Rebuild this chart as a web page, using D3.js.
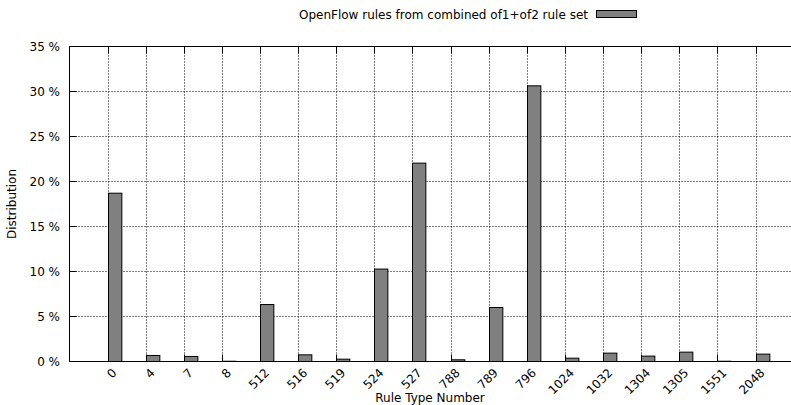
<!DOCTYPE html>
<html>
<head>
<meta charset="utf-8">
<script src="https://cdn.jsdelivr.net/npm/d3@7"></script>
<style>
  html, body { margin: 0; padding: 0; background: #fff; }
  svg { display: block; font-family: "DejaVu Sans", sans-serif; }
</style>
</head>
<body>
<svg id="chart" width="791" height="405"></svg>
<script>
// Rule type numbers (x categories)
const ruleTypes = ["0", "4", "7", "8", "512", "516", "519", "524", "527", "788",
                   "789", "796", "1024", "1032", "1304", "1305", "1551", "2048"];
// Share of each rule type in the combined of1+of2 rule set, in percent
const distribution = [18.7, 0.67, 0.56, 0.03, 6.33, 0.74, 0.26, 10.27, 22.04, 0.19,
                      6.0, 30.63, 0.37, 0.93, 0.6, 1.04, 0.03, 0.82];
// Y axis ticks (percent)
const yTicks = [0, 5, 10, 15, 20, 25, 30, 35];
const seriesName = "OpenFlow rules from combined of1+of2 rule set";

const FS = 12;
const svg = d3.select("#chart");
const plot = { left: 69.5, right: 791, top: 46.5, bottom: 361.5 };

const y = d3.scaleLinear().domain([0, 35]).range([plot.bottom, plot.top]);
const x = d3.scalePoint().domain(ruleTypes).range([107.5, 755.5]);
const barW = x.step() * 0.35;
const px = d => Math.round(x(d)) + 0.5;

// Grid: horizontal dotted lines
svg.append("g").selectAll("line")
  .data(yTicks.filter(t => t > 0 && t < 35))
  .join("line")
  .attr("x1", plot.left).attr("x2", plot.right)
  .attr("y1", d => y(d)).attr("y2", d => y(d))
  .attr("stroke", "#000").attr("stroke-width", 1)
  .attr("stroke-dasharray", "1,2");

// Grid: vertical dotted lines at each rule type
svg.append("g").selectAll("line")
  .data(ruleTypes)
  .join("line")
  .attr("x1", px).attr("x2", px)
  .attr("y1", plot.top).attr("y2", plot.bottom)
  .attr("stroke", "#000").attr("stroke-width", 1)
  .attr("stroke-dasharray", "1,2");

// Bars
svg.append("g").selectAll("rect")
  .data(ruleTypes.map((r, i) => ({ r, v: distribution[i] })))
  .join("rect")
  .attr("x", d => px(d.r))
  .attr("y", d => y(d.v))
  .attr("width", barW)
  .attr("height", d => plot.bottom - y(d.v))
  .attr("fill", "#808080")
  .attr("stroke", "#000")
  .attr("stroke-width", 1);

// Tick marks (inward) on bottom, top and left
const tickLen = 7;
const tg = svg.append("g").attr("stroke", "#000").attr("stroke-width", 1);
ruleTypes.forEach(r => {
  tg.append("line").attr("x1", px(r)).attr("x2", px(r)).attr("y1", plot.bottom).attr("y2", plot.bottom - tickLen);
  tg.append("line").attr("x1", px(r)).attr("x2", px(r)).attr("y1", plot.top).attr("y2", plot.top + tickLen);
});
yTicks.forEach(t => {
  tg.append("line").attr("x1", plot.left).attr("x2", plot.left + tickLen).attr("y1", y(t)).attr("y2", y(t));
});

// Border: left, top, bottom
const bg = svg.append("g").attr("stroke", "#000").attr("stroke-width", 1).attr("fill", "none");
bg.append("line").attr("x1", plot.left).attr("x2", plot.left).attr("y1", plot.top).attr("y2", plot.bottom);
bg.append("line").attr("x1", plot.left).attr("x2", plot.right).attr("y1", plot.top).attr("y2", plot.top);
bg.append("line").attr("x1", plot.left).attr("x2", plot.right).attr("y1", plot.bottom).attr("y2", plot.bottom);

// Y tick labels
svg.append("g").selectAll("text")
  .data(yTicks)
  .join("text")
  .attr("x", 60).attr("y", d => y(d))
  .attr("dy", "0.35em")
  .attr("text-anchor", "end")
  .attr("font-size", FS)
  .attr("fill", "#000")
  .text(d => d + " %");

// X tick labels, rotated 45 degrees
svg.append("g").selectAll("text")
  .data(ruleTypes)
  .join("text")
  .attr("text-anchor", "end")
  .attr("font-size", FS)
  .attr("fill", "#000")
  .attr("transform", d => "translate(" + (x(d) + 10) + "," + (plot.bottom + 12) + ") rotate(-45)")
  .text(d => d);

// Axis titles
svg.append("text")
  .attr("x", 430).attr("y", 402)
  .attr("text-anchor", "middle")
  .attr("font-size", FS)
  .text("Rule Type Number");

svg.append("text")
  .attr("transform", `translate(16,${(plot.top + plot.bottom) / 2}) rotate(-90)`)
  .attr("text-anchor", "middle")
  .attr("font-size", FS)
  .text("Distribution");

// Legend
svg.append("text")
  .attr("x", 588).attr("y", 18.5)
  .attr("text-anchor", "end")
  .attr("font-size", FS)
  .text(seriesName);
svg.append("rect")
  .attr("x", 596.5).attr("y", 10.5)
  .attr("width", 40).attr("height", 7)
  .attr("fill", "#808080")
  .attr("stroke", "#000")
  .attr("stroke-width", 1);
</script>
</body>
</html>
